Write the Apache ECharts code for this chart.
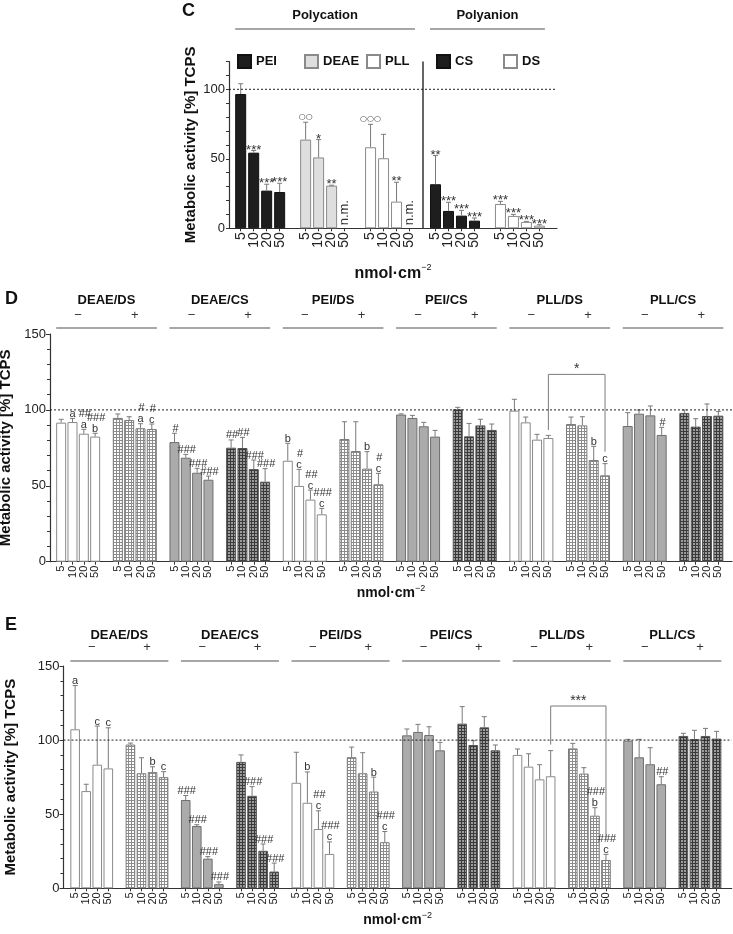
<!DOCTYPE html>
<html><head><meta charset="utf-8">
<script src="https://cdn.jsdelivr.net/npm/echarts@6/dist/echarts.min.js"></script>
<style>html,body{margin:0;padding:0;background:#fff}#c{width:733px;height:934px}</style>
</head><body><div id="c"></div>
<script>
// ---------------- DATA ----------------
const doses = ['5', '10', '20', '50'];
const refLevel = 100;

// Panel C
const cGroups = ['PEI', 'DEAE', 'PLL', 'CS', 'DS'];
const cMean = [
  [96.6, 54.4, 27.1, 26.1],
  [63.8, 51.0, 30.7, null],
  [58.3, 50.4, 19.2, null],
  [31.7, 12.5, 9.1, 5.5],
  [17.5, 8.9, 4.6, 1.9]
];
const cSD = [
  [7.4, 1.6, 4.6, 6.3],
  [12.5, 12.8, 0.3, null],
  [16.5, 17.2, 13.9, null],
  [20.6, 6.2, 3.8, 1.9],
  [1.9, 1.1, 0.4, 0.7]
];
const cNote = [
  ['', '***', '***', '***'],
  ['○○', '*', '**', 'n.m.'],
  ['○○○', '', '**', 'n.m.'],
  ['**', '***', '***', '***'],
  ['***', '***', '***', '***']
];
const cClasses = ['Polycation', 'Polyanion'];
const cClassGroups = [[0, 2], [3, 4]];

// Panels D and E
const pairs = ['DEAE/DS', 'DEAE/CS', 'PEI/DS', 'PEI/CS', 'PLL/DS', 'PLL/CS'];
const signs = ['−', '+'];

const dMean = [
  [91.6, 92.0, 84.3, 82.4],
  [94.7, 93.3, 87.9, 87.4],
  [78.8, 68.5, 58.6, 54.0],
  [75.1, 74.9, 61.0, 52.7],
  [66.5, 49.9, 40.9, 31.2],
  [80.8, 72.9, 61.3, 51.0],
  [96.9, 94.7, 89.2, 82.4],
  [100.4, 82.6, 89.8, 86.8],
  [99.5, 91.8, 80.4, 81.5],
  [90.7, 89.8, 67.0, 56.9],
  [89.4, 97.5, 96.4, 83.5],
  [98.0, 89.0, 96.0, 96.2]
];
const dSD = [
  [2.2, 2.4, 2.9, 2.2],
  [2.6, 2.2, 3.0, 3.3],
  [5.8, 2.2, 2.9, 2.4],
  [5.1, 7.0, 6.0, 8.6],
  [11.5, 10.9, 6.3, 3.9],
  [11.4, 19.3, 11.2, 7.2],
  [0.5, 1.7, 2.6, 4.1],
  [1.3, 8.5, 4.0, 3.9],
  [7.5, 3.5, 3.5, 1.7],
  [4.6, 5.7, 9.0, 7.7],
  [8.8, 2.4, 6.2, 5.0],
  [1.9, 5.2, 7.9, 2.8]
];
const dNote = [
  ['', 'a', '##\na', '###\nb'],
  ['', '', '#\na', '#\nc'],
  ['#', '###', '###', '###'],
  ['##', '##', '###', '###'],
  ['b', '#\nc', '##\nc', '###\nc'],
  ['', '', 'b', '#\nc'],
  ['', '', '', ''],
  ['', '', '', ''],
  ['', '', '', ''],
  ['', '', 'b', 'c'],
  ['', '', '', '#'],
  ['', '', '', '']
];
// bracket: [fromSubgroup, fromDose, toSubgroup, toDose, leftBottom, top, rightBottom]
const dBracket = [8, 3, 9, 3, 86.8, 123.4, 72.5];
const dBracketText = '*';

const eMean = [
  [107.3, 65.6, 83.4, 80.9],
  [97.0, 77.6, 78.4, 75.0],
  [59.6, 42.0, 20.0, 2.8],
  [85.3, 62.4, 25.3, 11.3],
  [71.2, 57.7, 40.0, 23.2],
  [88.5, 77.6, 65.3, 31.1],
  [103.2, 105.5, 103.4, 93.1],
  [111.1, 96.7, 108.6, 93.1],
  [90.0, 82.1, 73.5, 75.6],
  [94.4, 77.4, 49.0, 19.1],
  [99.6, 88.4, 83.7, 70.2],
  [102.8, 100.7, 102.8, 101.0]
];
const eSD = [
  [29.5, 4.6, 26.1, 27.4],
  [1.0, 10.5, 3.6, 3.7],
  [3.0, 0.9, 1.4, 1.5],
  [4.7, 6.2, 4.6, 5.7],
  [20.6, 20.8, 12.3, 8.1],
  [6.8, 13.9, 9.7, 7.2],
  [4.3, 5.1, 5.6, 5.4],
  [11.5, 2.9, 7.2, 3.6],
  [4.0, 8.7, 9.9, 17.3],
  [3.4, 4.0, 5.4, 3.8],
  [0.9, 12.1, 11.2, 5.1],
  [1.8, 5.9, 5.1, 4.9]
];
const eNote = [
  ['a', '', 'c', 'c'],
  ['', '', 'b', 'c'],
  ['###', '###', '###', '###'],
  ['', '###', '###', '###'],
  ['', 'b', '##\nc', '###\nc'],
  ['', '', 'b', '###\nc'],
  ['', '', '', ''],
  ['', '', '', ''],
  ['', '', '', ''],
  ['', '', '###\nb', '###\nc'],
  ['', '', '', '##'],
  ['', '', '', '']
];
const eBracket = [8, 3, 9, 3, 97.0, 123.0, 33.0];
const eBracketText = '***';

const yName = 'Metabolic activity [%] TCPS';

// ---------------- STYLE ----------------
const FONT = '"Liberation Sans", Arial, Helvetica, sans-serif';
function pat(bg, line, size) {
  const c = document.createElement('canvas');
  c.width = size; c.height = size;
  const ctx = c.getContext('2d');
  ctx.fillStyle = bg; ctx.fillRect(0, 0, size, size);
  ctx.fillStyle = line;
  ctx.fillRect(0, size - 1, size, 1);
  ctx.fillRect(size - 1, 0, 1, size);
  return c;
}
const fills = {
  black: { color: '#1e1e1e', borderColor: '#111' },
  lgray: { color: '#dedede', borderColor: '#8a8a8a' },
  white: { color: '#ffffff', borderColor: '#8a8a8a' },
  gray: { color: '#ababab', borderColor: '#6e6e6e' },
  lhatch: { color: { image: pat('#ffffff', '#8c8c8c', 3), repeat: 'repeat' }, borderColor: '#7a7a7a' },
  dhatch: { color: { image: pat('#9c9c9c', '#3a3a3a', 3), repeat: 'repeat' }, borderColor: '#555' }
};
const cFill = ['black', 'lgray', 'white', 'black', 'white'];
function pairFill(si) { // subgroup index -> fill key
  const p = Math.floor(si / 2), s = si % 2;
  if (p % 2 === 0) return s === 0 ? 'white' : 'lhatch';
  return s === 0 ? 'gray' : 'dhatch';
}

// ---------------- BUILD ----------------
function buildCats(names) {
  const cats = [];
  names.forEach((g, gi) => {
    if (gi > 0) cats.push('gap' + gi);
    doses.forEach(d => cats.push(g + '|' + d));
  });
  return cats;
}
const idx = (gi, j) => gi * 5 + j;

const titleStyle = { fontSize: 18, fontWeight: 'bold', color: '#111', fontFamily: FONT };
const option = {
  animation: false,
  backgroundColor: '#fff',
  textStyle: { fontFamily: FONT },
  title: [
    { text: 'C', left: 182, top: 2, padding: 0, textStyle: titleStyle },
    { text: 'D', left: 5, top: 290, padding: 0, textStyle: titleStyle },
    { text: 'E', left: 5, top: 616, padding: 0, textStyle: titleStyle }
  ],
  legend: [],
  grid: [], xAxis: [], yAxis: [], series: []
};

function addPanel(p) {
  const gi = option.grid.length;
  const xi = option.xAxis.length, yi = option.yAxis.length;
  option.grid.push({ left: p.frame[0], right: p.frame[1], top: p.top, bottom: p.bottom, containLabel: false, outerBoundsMode: 'none' });
  option.grid.push({ left: p.data[0], right: p.data[1], top: p.top, bottom: p.bottom, containLabel: false, outerBoundsMode: 'none' });
  option.xAxis.push({
    gridIndex: gi, type: 'value', min: 0, max: 1,
    axisLine: { show: true, onZero: false, lineStyle: { color: '#333', width: 1.2 } },
    axisTick: { show: false }, axisLabel: { show: false }, splitLine: { show: false },
    name: '{b|nmol·cm}{s|−2}', nameLocation: 'middle', nameGap: p.xNameGap,
    nameTextStyle: {
      rich: {
        b: { fontSize: p.xNameSize, fontWeight: 'bold', color: '#111', lineHeight: p.xNameSize + 4, fontFamily: FONT },
        s: { fontSize: 9, color: '#111', lineHeight: 9, verticalAlign: 'top', fontFamily: FONT }
      }
    }
  });
  option.xAxis.push({
    gridIndex: gi + 1, type: 'category', data: p.cats,
    axisLine: { show: false },
    axisTick: { show: true, alignWithLabel: true, length: 3, interval: (i, v) => String(v).indexOf('|') >= 0, lineStyle: { color: '#333' } },
    axisLabel: {
      interval: 0, rotate: 90, fontSize: p.xFont, color: '#222', margin: 4,
      formatter: v => (v.indexOf('|') < 0 ? '' : v.split('|').pop())
    },
    splitLine: { show: false }
  });
  const yFrame = {
    gridIndex: gi, type: 'value', min: 0, max: p.yMax, interval: p.yInterval,
    axisLine: { show: true, lineStyle: { color: '#333', width: 1.2 } },
    axisTick: { show: true, length: p.tickLen, lineStyle: { color: '#333' } },
    axisLabel: { fontSize: 13, color: '#222', margin: 4, formatter: v => (v % 50 === 0 ? v : '') },
    splitLine: { show: false },
    name: yName, nameLocation: 'middle', nameGap: p.yNameGap, nameRotate: 90,
    nameTextStyle: { fontSize: 15, fontWeight: 'bold', color: '#111', fontFamily: FONT }
  };
  if (p.minor) yFrame.minorTick = { show: true, splitNumber: 5, length: 3, lineStyle: { color: '#333' } };
  option.yAxis.push(yFrame);
  option.yAxis.push({ gridIndex: gi + 1, type: 'value', min: 0, max: p.yMax, show: false });

  // reference line (100 %)
  option.series.push({
    type: 'line', xAxisIndex: xi, yAxisIndex: yi, data: [[0, refLevel], [1, refLevel]],
    symbol: 'none', silent: true, z: 6,
    lineStyle: { color: '#222', width: 1, type: [2, 2] }
  });

  // bars: one series per fill/group
  const errItems = [], noteItems = [];
  p.seriesDefs.forEach(sd => {
    const data = p.cats.map(() => null);
    sd.subs.forEach(si => {
      p.means[si].forEach((m, j) => {
        const k = idx(si, j);
        if (m != null) {
          data[k] = m;
          const s = p.sds[si][j];
          if (s != null) errItems.push([k, m, s]);
        }
        const t = p.notes[si][j];
        if (t) noteItems.push({ x: k, y: (m == null ? 0 : m + (p.sds[si][j] || 0)), text: t });
      });
    });
    const ser = {
      type: 'bar', name: sd.name, xAxisIndex: xi + 1, yAxisIndex: yi + 1, data,
      barWidth: p.barW, barGap: '-100%', z: 2, silent: true,
      itemStyle: Object.assign({ borderWidth: 1 }, fills[sd.fill])
    };
    if (sd.markLine) ser.markLine = sd.markLine;
    option.series.push(ser);
  });

  // error bars (upper only)
  option.series.push({
    type: 'custom', xAxisIndex: xi + 1, yAxisIndex: yi + 1, z: 3, silent: true,
    data: errItems, encode: { x: 0, y: 1 },
    renderItem(params, api) {
      const x = api.value(0), m = api.value(1), s = api.value(2);
      const a = api.coord([x, m]), b = api.coord([x, m + s]);
      const hw = 2.5;
      return {
        type: 'group', children: [
          { type: 'line', shape: { x1: a[0], y1: a[1], x2: b[0], y2: b[1] }, style: { stroke: '#7a7a7a', lineWidth: 1 } },
          { type: 'line', shape: { x1: b[0] - hw, y1: b[1], x2: b[0] + hw, y2: b[1] }, style: { stroke: '#7a7a7a', lineWidth: 1 } }
        ]
      };
    }
  });

  // annotations
  option.series.push({
    type: 'custom', xAxisIndex: xi + 1, yAxisIndex: yi + 1, z: 4, silent: true,
    data: noteItems.map(n => [n.x, n.y]), encode: { x: 0, y: 1 },
    renderItem(params, api) {
      const it = noteItems[params.dataIndex];
      const pt = api.coord([api.value(0), api.value(1)]);
      if (it.text === 'n.m.') {
        const b0 = api.coord([api.value(0), 0]);
        return { type: 'text', x: b0[0], y: b0[1] - 3, rotation: Math.PI / 2,
          style: { text: 'n.m.', align: 'left', verticalAlign: 'middle', font: p.nmFont, fill: '#333' } };
      }
      const lines = it.text.split('\n').reverse();
      const y = pt[1];
      const children = lines.map((t, k) => {
        let font = p.noteFont, yy;
        if (/^\*+$/.test(t)) { font = p.starFont; yy = y + 6; }
        else if (/^○+$/.test(t)) { font = '8px "DejaVu Sans", sans-serif'; yy = y - 1; }
        else { yy = y + 1; }
        return { type: 'text', x: pt[0] + (t[0] === '#' ? 1 : 0), y: yy - k * p.lineH,
          style: { text: t, align: 'center', verticalAlign: 'bottom', font, fill: '#333' } };
      });
      return { type: 'group', children };
    }
  });

  // headers
  option.series.push({
    type: 'custom', xAxisIndex: xi + 1, yAxisIndex: yi + 1, z: 4, silent: true, clip: false,
    data: p.headers.map(h => [h.first, h.last, p.yMax]), encode: { x: [0, 1], y: 2 },
    renderItem(params, api) {
      const h = p.headers[params.dataIndex];
      const a = api.coord([api.value(0), api.value(2)]);
      const b = api.coord([api.value(1), api.value(2)]);
      const top = a[1];
      const hw = p.barW / 2;
      const ch = [
        { type: 'line', shape: { x1: a[0] - hw, y1: top - p.hdr.line, x2: b[0] + hw, y2: top - p.hdr.line }, style: { stroke: '#8a8a8a', lineWidth: 1.5 } },
        { type: 'text', x: (a[0] + b[0]) / 2, y: top - p.hdr.label, style: { text: h.label, align: 'center', verticalAlign: 'middle', font: 'bold 13px ' + FONT, fill: '#111' } }
      ];
      (h.signs || []).forEach(s => {
        const s1 = api.coord([s[0], api.value(2)]), s2 = api.coord([s[1], api.value(2)]);
        ch.push({ type: 'text', x: (s1[0] + s2[0]) / 2, y: top - p.hdr.sign, style: { text: s[2], align: 'center', verticalAlign: 'middle', font: '13px ' + FONT, fill: '#333' } });
      });
      return { type: 'group', children: ch };
    }
  });

  // significance bracket
  if (p.bracket) {
    const br = p.bracket;
    option.series.push({
      type: 'custom', xAxisIndex: xi + 1, yAxisIndex: yi + 1, z: 4, silent: true,
      data: [[idx(br[0], br[1]), idx(br[2], br[3]), br[4], br[5], br[6]]], encode: { x: [0, 1], y: [2, 3, 4] },
      renderItem(params, api) {
        const l = api.coord([api.value(0), api.value(2)]);
        const lt = api.coord([api.value(0), api.value(3)]);
        const rt = api.coord([api.value(1), api.value(3)]);
        const r = api.coord([api.value(1), api.value(4)]);
        return {
          type: 'group', children: [
            { type: 'polyline', shape: { points: [l, lt, rt, r] }, style: { stroke: '#7a7a7a', fill: null, lineWidth: 1 } },
            { type: 'text', x: (lt[0] + rt[0]) / 2, y: lt[1] + 2, style: { text: p.bracketText, align: 'center', verticalAlign: 'bottom', font: '14px ' + FONT, fill: '#333' } }
          ]
        };
      }
    });
  }
}

// Panel C
const cCats = buildCats(cGroups);
addPanel({
  frame: [229, 176], data: [234.2, 187.1], top: 61.5, bottom: 705.7,
  cats: cCats, yMax: 120, yInterval: 10, tickLen: 3, minor: false,
  xFont: 14, xNameGap: 35, xNameSize: 16, yNameGap: 31,
  barW: 11,
  means: cMean, sds: cSD, notes: cNote,
  seriesDefs: cGroups.map((g, i) => {
    const d = { name: g, fill: cFill[i], subs: [i] };
    if (i === 3) d.markLine = { symbol: ['none', 'none'], silent: true, label: { show: false },
      lineStyle: { color: '#333', width: 1.5, type: 'solid' }, data: [{ xAxis: 'gap3' }] };
    return d;
  }),
  noteFont: '12px ' + FONT, starFont: '13px ' + FONT, nmFont: '13px ' + FONT, lineH: 11,
  headers: cClasses.map((c, i) => ({ first: idx(cClassGroups[i][0], 0), last: idx(cClassGroups[i][1], 3), label: c })),
  hdr: { line: 32.5, label: 46.5, sign: 0 }
});
const legendLeft = [237, 304, 366, 436, 503];
cGroups.forEach((g, i) => {
  option.legend.push({
    data: [g], left: legendLeft[i], top: 54, padding: 0, itemWidth: 13, itemHeight: 13, icon: 'rect',
    selectedMode: false, itemGap: 0,
    textStyle: { fontSize: 13, fontWeight: 'bold', color: '#111', fontFamily: FONT }
  });
});

// Panels D and E
const subNames = [];
pairs.forEach(pr => signs.forEach(s => subNames.push(pr + ' ' + s)));
const deCats = buildCats(subNames);
const fillKeys = ['white', 'lhatch', 'gray', 'dhatch'];
const deSeriesDefs = fillKeys.map(f => ({ name: f, fill: f, subs: subNames.map((n, si) => si).filter(si => pairFill(si) === f) }));
const deHeaders = pairs.map((pr, pi) => ({
  first: idx(2 * pi, 0), last: idx(2 * pi + 1, 3), label: pr,
  signs: [[idx(2 * pi, 0), idx(2 * pi, 3), signs[0]], [idx(2 * pi + 1, 0), idx(2 * pi + 1, 3), signs[1]]]
}));

addPanel({
  frame: [50, 1], data: [55.5, 9], top: 334, bottom: 372.3,
  cats: deCats, yMax: 150, yInterval: 50, tickLen: 4, minor: true,
  xFont: 11, xNameGap: 22, xNameSize: 14, yNameGap: 32,
  barW: 10,
  means: dMean, sds: dSD, notes: dNote, seriesDefs: deSeriesDefs,
  noteFont: '11px ' + FONT, starFont: '14px ' + FONT, nmFont: '11px ' + FONT, lineH: 11,
  headers: deHeaders, hdr: { line: 6, label: 34, sign: 19 },
  bracket: dBracket, bracketText: dBracketText
});

addPanel({
  frame: [63.5, 1.3], data: [69.6, 10.9], top: 666, bottom: 45.7,
  cats: deCats, yMax: 150, yInterval: 50, tickLen: 4, minor: true,
  xFont: 11, xNameGap: 23, xNameSize: 14, yNameGap: 45,
  barW: 9.6,
  means: eMean, sds: eSD, notes: eNote, seriesDefs: deSeriesDefs,
  noteFont: '11px ' + FONT, starFont: '14px ' + FONT, nmFont: '11px ' + FONT, lineH: 11,
  headers: deHeaders, hdr: { line: 5, label: 31, sign: 19 },
  bracket: eBracket, bracketText: eBracketText
});

const chart = echarts.init(document.getElementById('c'), null, { renderer: 'canvas' });
chart.setOption(option);
</script>
</body></html>
